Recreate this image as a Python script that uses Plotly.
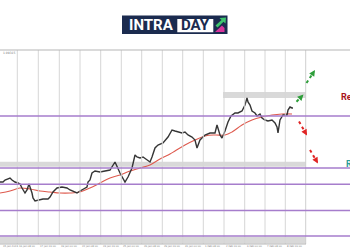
import plotly.graph_objects as go

# ---- data (bar index / price level) ----
bar_idx = [0,3,5,8,10,12,15,18,20,22,25,27,29,32,33,35,38,43,48,50,53,57,62,67,70,73,77,80,83,87,88,90,
           92,95,100,107,110,115,117,120,125,128,132,135,137,140,143,147,150,152,155,158,163,168,172,175,
           178,182,185,188,192,195,197,200,205,210,215,217,220,222,225,228,231,235,238,242,245,247,248,250,
           252,255,257,260,262,265,268,272,275,277,278,280,283,287,288,290,292,293]
close = [68,68,70,71,72,70,68,67,66,62,57,60,66,57,52,49,50,51,51,53,58,62,63,62,60,59,57,59,61,63,68,70,
         77,79,78,79,80,88,83,77,68,73,82,95,93,92,93,90,88,93,102,105,107,113,120,119,
         118,117,118,115,113,110,102,110,115,117,117,125,115,112,119,128,134,137,137,139,145,152,148,145,
         139,137,134,136,132,130,129,130,127,123,117,130,135,135,140,143,142,142]

ma_idx = [0,10,20,30,40,50,60,70,80,90,100,110,120,130,140,150,160,170,175,185,195,205,215,225,232,242,252,262,272,282,292]
ma_val = [57,59,62,61,59,58,57,57,58,62,67,72,75,79,82,85,91,96,99,105,110,114,115,115,118,125,130,133,135,136,136]

level_lines = [134, 82, 65.7, 39.5, 14]
zones = [(223, 306, 152, 158), (0, 306, 83.3, 88.3), (0, 306, 6.5, 13.3)]
grid_x = [17.3, 38.3, 59.3, 80, 100.7, 121.3, 141.7, 162.3, 182.7, 203.3, 224, 244.7, 265, 285.3]
date_labels = ["15 Jan 2024", "16 Jan 08:00", "17 Jan 16:00", "19 Jan 00:00", "22 Jan 08:00",
               "23 Jan 16:00", "25 Jan 00:00", "26 Jan 08:00", "29 Jan 16:00", "31 Jan 00:00",
               "1 Feb 08:00", "2 Feb 16:00", "6 Feb 00:00", "7 Feb 08:00", "8 Feb 16:00"]

fig = go.Figure()

shapes = []
# vertical grid
for gx in grid_x:
    shapes.append(dict(type="line", x0=gx, x1=gx, y0=6, y1=200, line=dict(color="#d6d6d6", width=1)))
shapes.append(dict(type="line", x0=305.7, x1=305.7, y0=6, y1=200, line=dict(color="#cfcfcf", width=1)))
# zones
for x0, x1, y0, y1 in zones:
    shapes.append(dict(type="rect", x0=x0, x1=x1, y0=y0, y1=y1, line=dict(width=0), fillcolor="#d9d9d9", layer="below"))
# frame
shapes.append(dict(type="line", x0=0, x1=350, y0=200, y1=200, line=dict(color="#b5b5b5", width=1)))
shapes.append(dict(type="line", x0=0, x1=306, y0=6, y1=6, line=dict(color="#b5b5b5", width=1)))
# levels
for lv in level_lines:
    shapes.append(dict(type="line", x0=0, x1=350, y0=lv, y1=lv, line=dict(color="#a67dcc", width=1.5)))

# dashed arrows (shafts)
arrows = [((296.5, 148.3), (303.5, 155.5), "#2e9e3a"),
          ((306.5, 167), (315, 180), "#2e9e3a"),
          ((299, 128.5), (307, 114.5), "#e02424"),
          ((310, 100), (318, 86.5), "#e02424")]
annotations = []
for (tx, ty), (hx, hy), col in arrows:
    shapes.append(dict(type="line", x0=tx, y0=ty, x1=tx + (hx - tx) * 0.7, y1=ty + (hy - ty) * 0.7,
                       line=dict(color=col, width=2, dash="dot")))
    annotations.append(dict(x=hx, y=hy, ax=tx + (hx - tx) * 0.6, ay=ty + (hy - ty) * 0.6,
                            xref="x", yref="y", axref="x", ayref="y", text="", showarrow=True,
                            arrowhead=2, arrowsize=0.8, arrowwidth=1.5, arrowcolor=col, standoff=0))

# logo
shapes.append(dict(type="rect", x0=122, x1=227.5, y0=216, y1=234.5, line=dict(width=0), fillcolor="#1b2b4f"))
shapes.append(dict(type="rect", x0=177.3, x1=213.3, y0=217.8, y1=231, line=dict(width=0), fillcolor="#ffffff"))
shapes.append(dict(type="path", path="M 215.5,224.5 L 221.5,230 L 219.5,232 L 226,232.5 L 225.5,226.5 L 223.5,228.3 L 217.5,222.5 Z",
                   line=dict(width=0), fillcolor="#3fc46e"))
shapes.append(dict(type="path", path="M 215,218 L 222,224.5 L 224.5,222 L 224.5,218 Z",
                   line=dict(width=0), fillcolor="#d8339c"))
annotations.append(dict(x=151, y=224.8, xref="x", yref="y", text="<b>INTRA</b>", showarrow=False,
                        font=dict(family="Roboto", size=15, color="#ffffff")))
annotations.append(dict(x=195.3, y=224.8, xref="x", yref="y", text="<b>DAY</b>", showarrow=False,
                        font=dict(family="Roboto", size=15, color="#1b2b4f")))

# level texts (cut at the right edge, as in the reference)
annotations.append(dict(x=339, y=153, xref="x", yref="y", text="<b>Resistance</b>", showarrow=False,
                        xanchor="left", font=dict(family="Roboto", size=9, color="#a8141c")))
annotations.append(dict(x=344, y=86, xref="x", yref="y", text="<b>Range</b>", showarrow=False,
                        xanchor="left", font=dict(family="Roboto", size=9, color="#2a9d9a")))

# tiny axis labels
annotations.append(dict(x=0.5, y=197.5, xref="x", yref="y", text="1.09315", showarrow=False,
                        xanchor="left", font=dict(family="DejaVu Sans", size=3, color="#777")))
for i, lab in enumerate(date_labels):
    lx = 0.5 if i == 0 else grid_x[i - 1]
    annotations.append(dict(x=lx, y=3.2, xref="x", yref="y", text=lab, showarrow=False,
                            xanchor="left", font=dict(family="DejaVu Sans", size=2.5, color="#777")))

fig.add_trace(go.Scatter(x=ma_idx, y=ma_val, mode="lines", line=dict(color="#de5a4e", width=1.1, shape="spline"),
                         hoverinfo="skip"))
fig.add_trace(go.Scatter(x=bar_idx, y=close, mode="lines", line=dict(color="#353535", width=1.4),
                         hoverinfo="skip"))

fig.update_layout(width=350, height=250, margin=dict(l=0, r=0, t=0, b=0),
                  paper_bgcolor="#ffffff", plot_bgcolor="#ffffff", showlegend=False,
                  shapes=shapes, annotations=annotations)
fig.update_xaxes(range=[0, 350], visible=False, fixedrange=True)
fig.update_yaxes(range=[0, 250], visible=False, fixedrange=True)
fig.write_html("out.html")
